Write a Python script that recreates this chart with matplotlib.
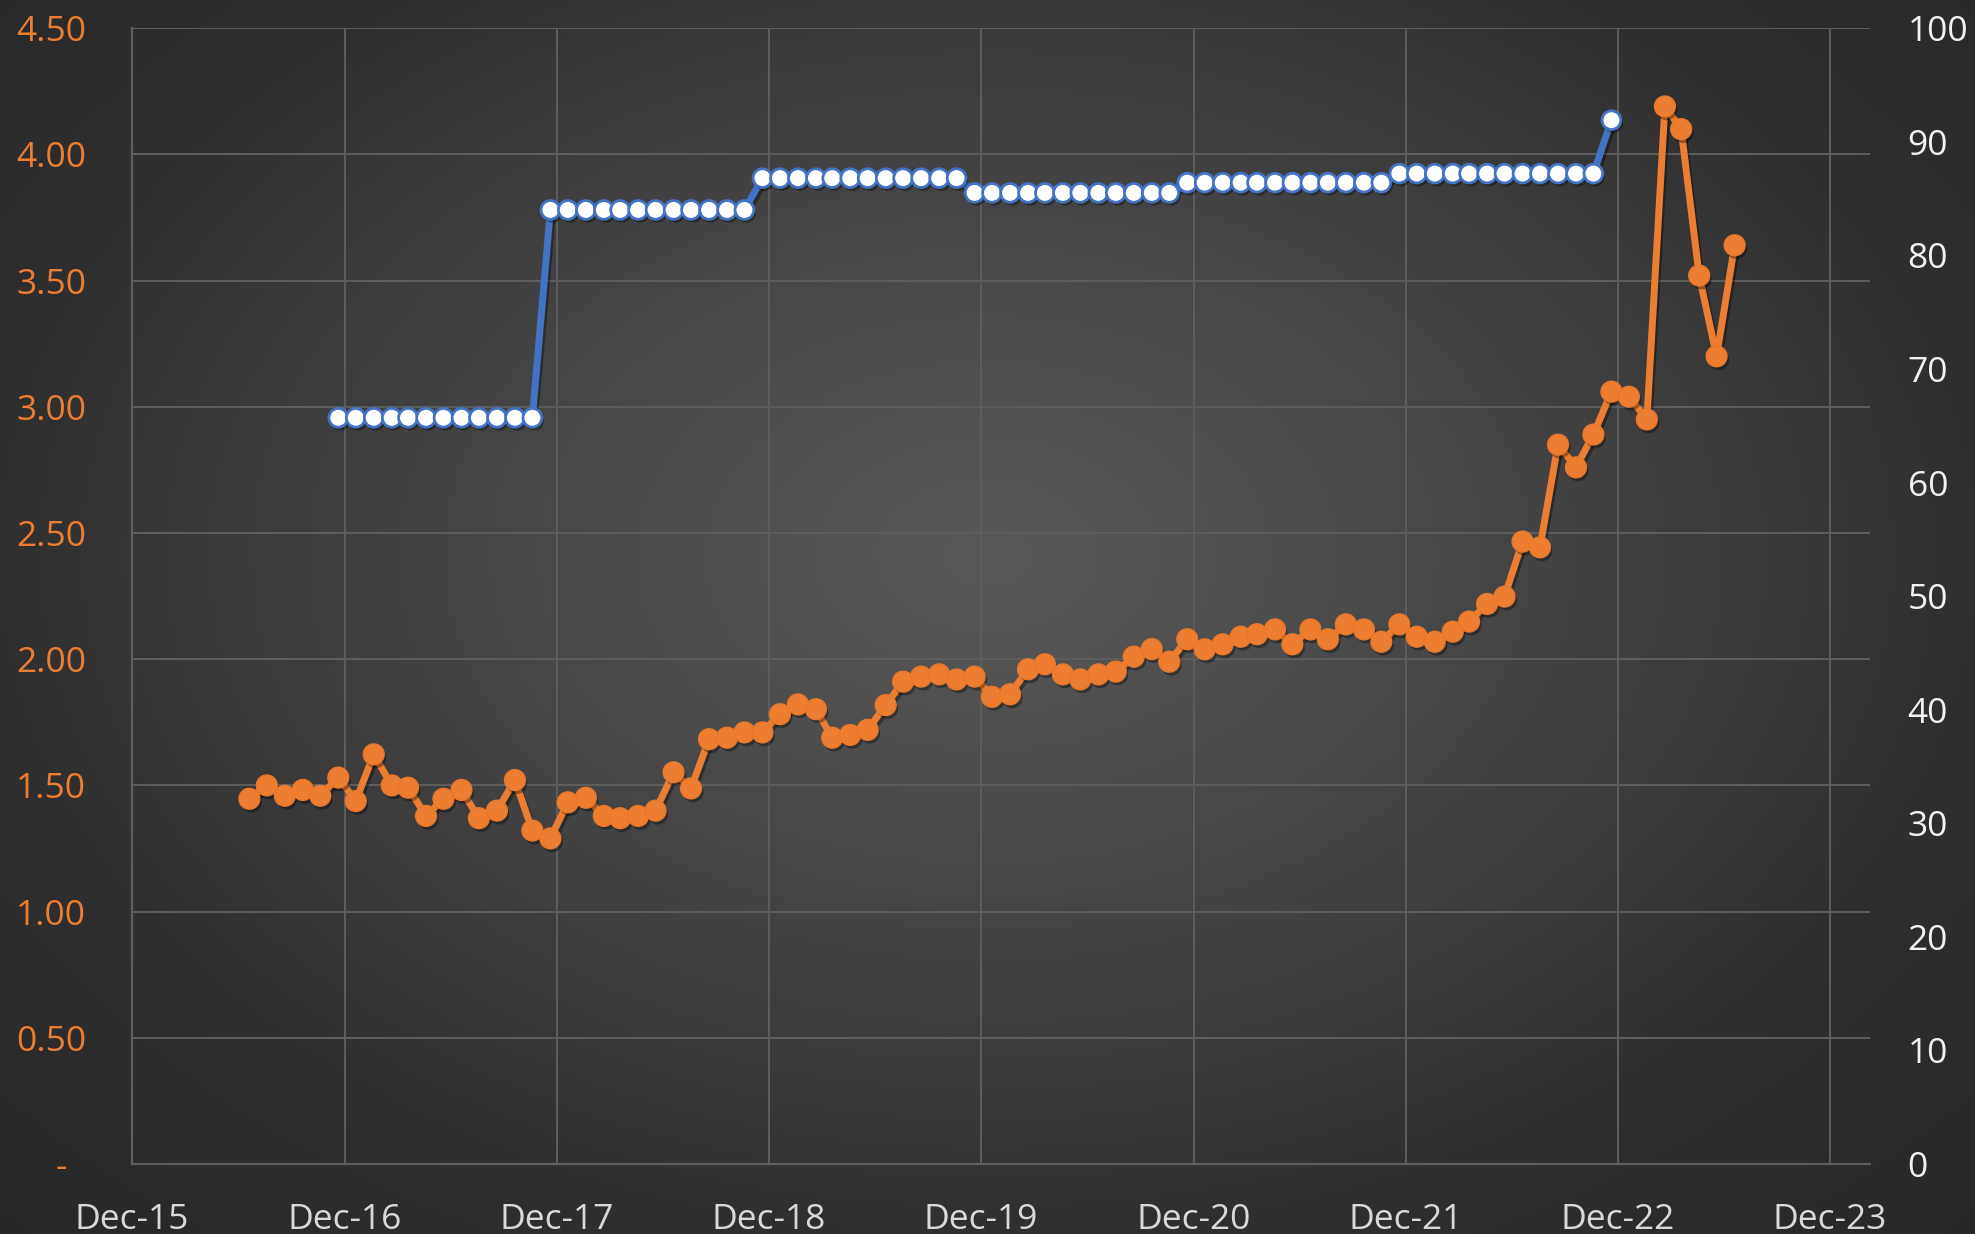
import matplotlib
matplotlib.use('Agg')
import matplotlib.pyplot as plt
import matplotlib.patheffects as pe
import numpy as np
import pandas as pd

plt.rcParams['font.family'] = ['Open Sans', 'DejaVu Sans']

# ---------------- data ----------------
orange_start = '2016-06'
orange_values = [
    1.447, 1.500, 1.459, 1.482, 1.459, 1.531, 1.438, 1.623, 1.500, 1.491,
    1.379, 1.447, 1.482, 1.370, 1.400, 1.521, 1.321, 1.290, 1.433, 1.451,
    1.379, 1.370, 1.379, 1.400, 1.552, 1.488, 1.683, 1.689, 1.710, 1.710,
    1.782, 1.821, 1.802, 1.689, 1.700, 1.720, 1.818, 1.911, 1.931, 1.940,
    1.920, 1.931, 1.851, 1.861, 1.960, 1.980, 1.940, 1.920, 1.940, 1.951,
    2.010, 2.040, 1.990, 2.079, 2.039, 2.059, 2.089, 2.099, 2.118, 2.059,
    2.118, 2.079, 2.138, 2.118, 2.069, 2.138, 2.089, 2.069, 2.109, 2.149,
    2.219, 2.248, 2.466, 2.443, 2.850, 2.760, 2.890, 3.060, 3.040, 2.950,
    4.190, 4.100, 3.520, 3.200, 3.640,
]
blue_start = '2016-11'
blue_values = ([65.7] * 12 + [84.0] * 12 + [86.8] * 12 + [85.5] * 12 +
               [86.4] * 12 + [87.2] * 12 + [91.9])

left_ticks = [0, 0.5, 1.0, 1.5, 2.0, 2.5, 3.0, 3.5, 4.0, 4.5]
left_labels = ['-  ', '0.50', '1.00', '1.50', '2.00', '2.50', '3.00', '3.50', '4.00', '4.50']
right_ticks = [0, 10, 20, 30, 40, 50, 60, 70, 80, 90, 100]
x_tick_dates = ['2015-12-01', '2016-12-01', '2017-12-01', '2018-12-01', '2019-12-01',
                '2020-12-01', '2021-12-01', '2022-12-01', '2023-12-01']
x_tick_labels = ['Dec-15', 'Dec-16', 'Dec-17', 'Dec-18', 'Dec-19',
                 'Dec-20', 'Dec-21', 'Dec-22', 'Dec-23']

# monthly observations, dated on the 20th of each month
orange_dates = pd.DatetimeIndex([pd.Timestamp(d.year, d.month, 20) for d in
                                 pd.date_range(orange_start, periods=len(orange_values), freq='MS')])
blue_dates = pd.DatetimeIndex([pd.Timestamp(d.year, d.month, 20) for d in
                               pd.date_range(blue_start, periods=len(blue_values), freq='MS')])

ORANGE = '#ED7D31'
BLUE = '#4472C4'
GRID = '#5e5e5e'
FS = 25.5

# ---------------- figure & background ----------------
fig = plt.figure(figsize=(19.75, 12.34), dpi=100)
bg = fig.add_axes([0, 0, 1, 1], zorder=-10)
H, W = 617, 988
yy, xx = np.mgrid[0:H, 0:W]
dx = (xx / (W - 1) - 0.5) / 0.5
dy = (yy / (H - 1) - 0.45) / 0.55
r = np.sqrt(dx ** 2 + dy ** 2)
c_center, c_edge, c_corner = 0x58 / 255, 0x2f / 255, 0x27 / 255
t = np.clip(r, 0, 1)
val = c_center + (c_edge - c_center) * t ** 1.2
val = val + (c_corner - c_edge) * np.clip((r - 1) / 0.45, 0, 1)
bg.imshow(np.dstack([val] * 3), extent=[0, 1, 0, 1], aspect='auto', origin='upper')
bg.set_axis_off()

# ---------------- main axes ----------------
ax = fig.add_axes([0.06684, 0.05673, 0.88, 0.92042])
ax.set_facecolor('none')
ax.set_xlim(pd.Timestamp('2015-12-01'), pd.Timestamp('2024-02-08'))
ax.set_ylim(0, 4.5)
ax.set_yticks(left_ticks)
ax.set_yticklabels(left_labels)
ax.set_xticks(pd.to_datetime(x_tick_dates))
ax.set_xticklabels(x_tick_labels)
ax.tick_params(axis='y', length=0, pad=33, labelsize=FS, labelcolor=ORANGE)
ax.tick_params(axis='x', length=0, pad=28, labelsize=FS, labelcolor='#d9d9d9')
ax.grid(True, color=GRID, lw=1.4)
ax.set_axisbelow(True)
for s in ['top', 'right']:
    ax.spines[s].set_visible(False)
for s in ['left', 'bottom']:
    ax.spines[s].set_color(GRID)
    ax.spines[s].set_linewidth(1.6)

shadow_line = [pe.SimpleLineShadow(offset=(1.5, -2.5), shadow_color='black', alpha=0.35), pe.Normal()]
shadow_mark = [pe.SimplePatchShadow(offset=(1.5, -2.5), shadow_rgbFace='black', alpha=0.35), pe.Normal()]

ax.plot(orange_dates, orange_values, color=ORANGE, lw=5.0, solid_joinstyle='round',
        path_effects=shadow_line, zorder=3)
ax.plot(orange_dates, orange_values, ls='none', marker='o', ms=15, mfc=ORANGE,
        mec='#e8782c', mew=1.0, path_effects=shadow_mark, zorder=4)

# ---------------- secondary axis ----------------
ax2 = ax.twinx()
ax2.set_facecolor('none')
ax2.set_ylim(0, 100)
ax2.set_yticks(right_ticks)
ax2.set_yticklabels([str(v) for v in right_ticks])
ax2.tick_params(axis='y', length=0, pad=27, labelsize=FS, labelcolor='#f2f2f2')
for s in ax2.spines.values():
    s.set_visible(False)

ax2.plot(blue_dates, blue_values, color=BLUE, lw=5.0, solid_joinstyle='round',
         path_effects=shadow_line, zorder=3)
ax2.plot(blue_dates, blue_values, ls='none', marker='o', ms=13.5, mfc='white',
         mec=BLUE, mew=2.0, path_effects=shadow_mark, zorder=4)

fig.savefig('out.png', dpi=100)
